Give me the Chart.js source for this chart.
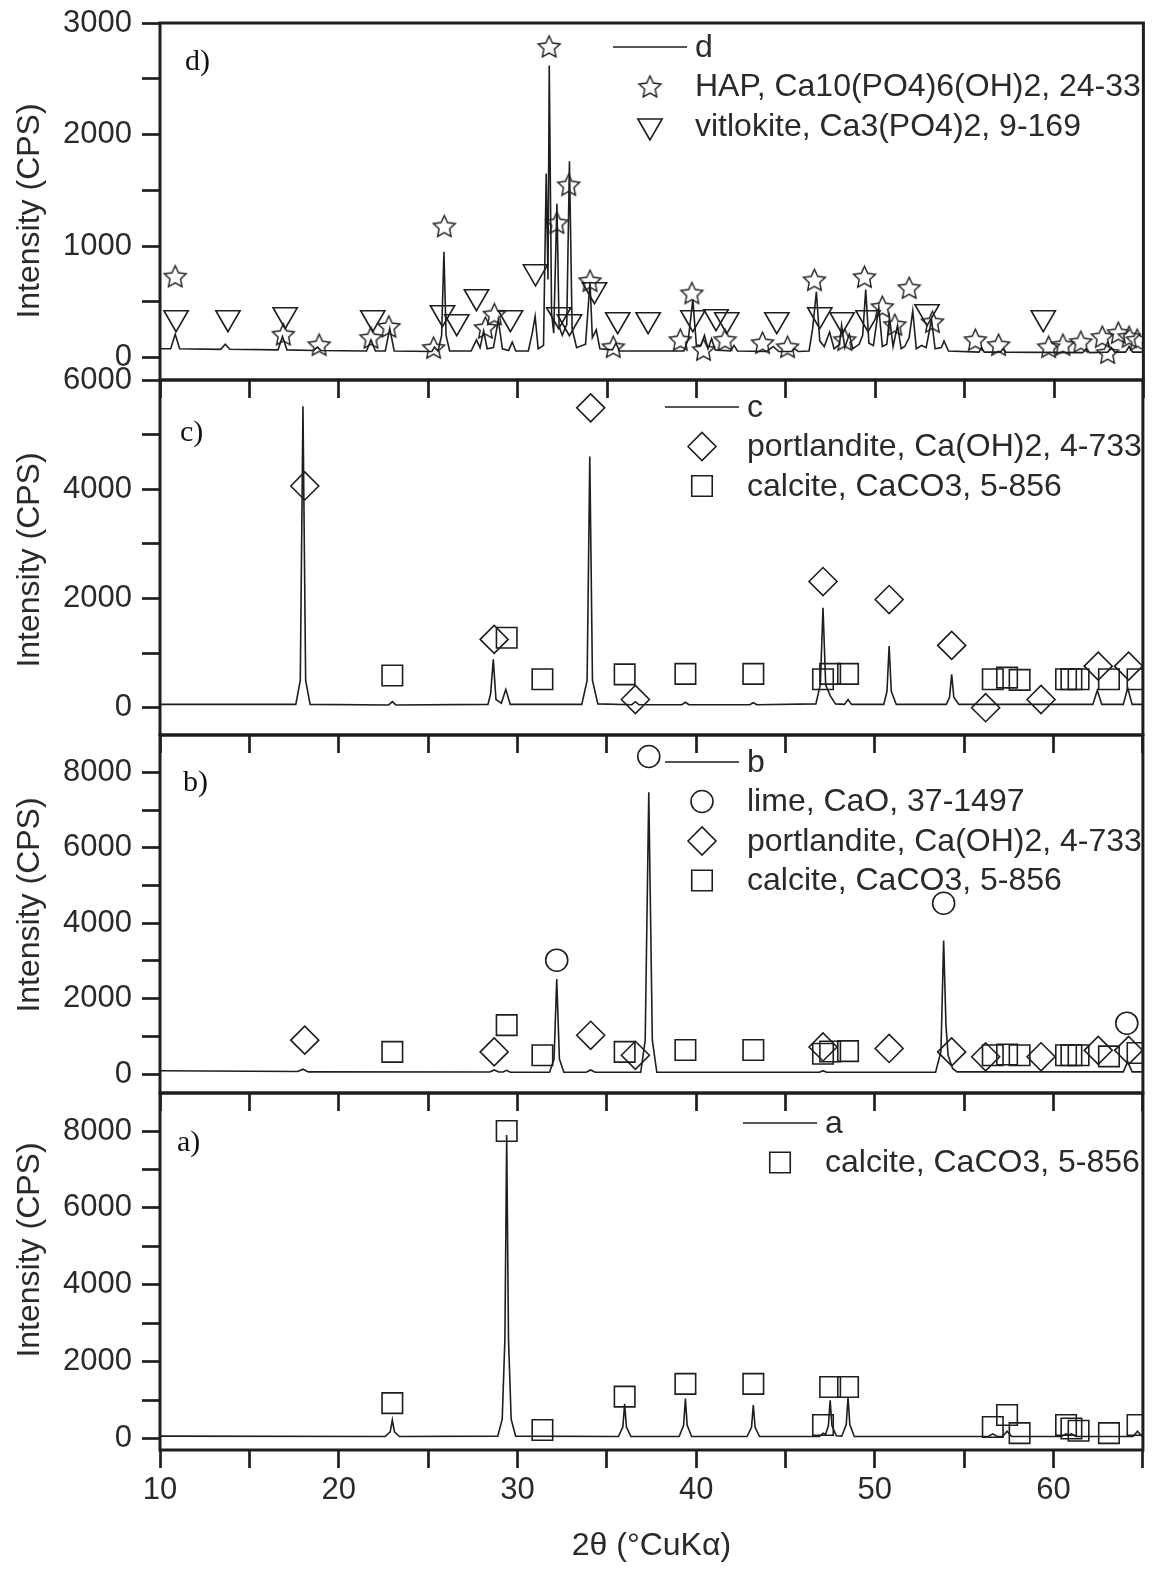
<!DOCTYPE html>
<html>
<head>
<meta charset="utf-8">
<title>XRD patterns</title>
<script src="https://cdn.jsdelivr.net/npm/chart.js@4.4.1/dist/chart.umd.min.js"></script>
<style>
  html, body { margin: 0; padding: 0; background: #fff; }
  #wrap { position: relative; width: 1159px; height: 1571px; overflow: hidden; background: #fff; }
  #wrap canvas { position: absolute; left: 0; top: 0; }
</style>
</head>
<body>
<div id="wrap">
  <canvas id="panelD" width="1159" height="1571"></canvas>
  <canvas id="panelC" width="1159" height="1571"></canvas>
  <canvas id="panelB" width="1159" height="1571"></canvas>
  <canvas id="panelA" width="1159" height="1571"></canvas>
</div>
<script>
"use strict";

// tick positions
var thetaTicks = [10, 15, 20, 25, 30, 35, 40, 45, 50, 55, 60, 65];
var dTicks = [0, 500, 1000, 1500, 2000, 2500, 3000];
var cTicks = [0, 1000, 2000, 3000, 4000, 5000, 6000];
var abTicks = [0, 1000, 2000, 3000, 4000, 5000, 6000, 7000, 8000];

// ---- d) HAP product ----
var dTheta = [10, 10.6, 10.85, 11.1, 13.4, 13.65, 13.9, 16.6, 16.85, 17.1, 18.6, 18.8, 19.0,
    21.55, 21.8, 22.05, 22.6, 22.85, 23.1, 25.2, 25.35, 25.55, 25.75, 25.88, 26.0, 26.2,
    27.4, 27.7, 27.9, 28.1, 28.3, 28.65, 28.92, 29.15, 29.5, 29.7, 29.9, 30.6, 30.82, 30.98,
    31.15, 31.45, 31.6, 31.7, 31.77, 31.9, 32.02, 32.2, 32.32, 32.5, 32.75, 32.9, 33.05, 33.3,
    33.8, 34.05, 34.18, 34.4, 34.6, 35.3, 35.5, 35.7, 39.3, 39.55, 39.8, 40.0, 40.25, 40.45,
    40.65, 40.85, 41.05, 41.9, 42.1, 42.3, 43.9, 44.3, 44.6, 45.3, 45.5, 45.7, 46.3, 46.5,
    46.71, 46.9, 47.15, 47.45, 47.7, 48.0, 48.12, 48.3, 48.55, 48.75, 49.1, 49.3, 49.47, 49.65,
    49.9, 50.2, 50.4, 50.65, 50.8, 51.0, 51.25, 51.45, 51.65, 51.9, 52.1, 52.3, 52.6, 52.85,
    53.15, 53.35, 53.7, 53.85, 54.1, 55.8, 55.95, 56.1, 57.0, 57.15, 57.3, 61.6, 61.8, 62.0,
    63.0, 63.2, 63.4, 64.0, 64.2, 64.4, 65];
var dCounts = [80, 80, 210, 80, 75, 120, 75, 70, 190, 70, 65, 95, 65,
    60, 160, 60, 60, 260, 60, 55, 95, 60, 200, 950, 200, 60,
    60, 160, 90, 240, 80, 90, 340, 80, 65, 140, 60, 60, 220, 370,
    80, 110, 1650, 700, 2620, 400, 220, 1380, 280, 200, 300, 1760, 260, 90,
    120, 680, 180, 250, 80, 70, 130, 60, 60, 170, 520, 110, 110, 200,
    80, 170, 70, 60, 110, 60, 55, 100, 55, 55, 80, 55, 60, 260,
    590, 150, 100, 230, 80, 120, 290, 90, 210, 80, 120, 200, 610, 130,
    110, 450, 100, 120, 360, 100, 290, 80, 100, 180, 420, 80, 110, 90,
    340, 80, 90, 150, 60, 50, 90, 50, 50, 80, 50, 45, 80, 45,
    50, 90, 50, 50, 100, 50, 50];
var hapTheta = [10.85, 16.9, 18.9, 21.8, 22.8, 25.3, 25.9, 28.2, 28.7, 31.76, 32.2, 32.86, 34.05,
    35.35, 39.1, 39.75, 40.4, 41.6, 43.7, 45.1, 46.6, 48.3, 49.4, 50.4, 51.1, 51.9, 53.2,
    55.6, 56.9, 59.7, 60.5, 61.5, 62.7, 63.0, 63.6, 64.2, 64.65];
var hapMarks = [730, 210, 116, 180, 280, 90, 1180, 270, 390, 2790, 1210, 1550, 690,
    98, 161, 580, 72, 161, 134, 98, 698, 161, 725, 457, 296, 627, 322,
    161, 116, 98, 116, 143, 188, 45, 224, 188, 161];
var whitTheta = [10.9, 13.8, 17.0, 21.9, 25.8, 26.6, 27.7, 29.6, 31.0, 32.3, 32.9, 34.3, 35.6,
    37.3, 39.8, 41.1, 41.7, 44.5, 46.9, 48.15, 49.6, 52.9, 59.4];
var whitMarks = [358, 358, 385, 358, 403, 322, 546, 358, 770, 385, 322, 609, 340,
    340, 358, 367, 340, 340, 385, 340, 358, 412, 358];

// ---- c) ----
var cTheta = [10, 17.6, 17.85, 18.0, 18.15, 18.4, 22.8, 23.0, 23.2, 28.35, 28.5, 28.65, 28.8,
    29.1, 29.35, 29.6, 33.6, 33.9, 34.05, 34.2, 34.5, 36.4, 36.6, 36.8, 39.2, 39.4, 39.6,
    43.0, 43.2, 43.4, 46.7, 46.95, 47.1, 47.25, 47.5, 47.8, 48.3, 48.5, 48.7, 50.5, 50.68,
    50.8, 50.92, 51.2, 54.0, 54.18, 54.3, 54.42, 54.7, 62.2, 62.45, 62.7, 63.9, 64.15, 64.4, 65];
var cCounts = [60, 60, 500, 5520, 500, 60, 50, 110, 50, 60, 250, 885, 150,
    80, 335, 60, 60, 500, 4600, 500, 70, 55, 110, 55, 55, 100, 55,
    55, 90, 55, 70, 420, 1830, 420, 220, 70, 60, 150, 60, 60, 300,
    1130, 300, 60, 60, 190, 610, 190, 60, 60, 320, 60, 60, 360, 60, 60];
var portCTheta = [18.1, 28.7, 34.1, 36.6, 47.1, 50.8, 54.3, 56.2, 59.3, 62.5, 64.2];
var portCMarks = [4060, 1250, 5490, 150, 2310, 1980, 1140, 0, 150, 760, 760];
var calcCTheta = [23.0, 29.4, 31.4, 36.0, 39.4, 43.2, 47.1, 47.5, 48.5, 56.6, 57.4, 58.1,
    60.7, 61.0, 61.4, 63.1, 64.7];
var calcCMarks = [590, 1280, 520, 610, 620, 620, 520, 620, 620, 520, 550, 510,
    520, 520, 520, 520, 520];

// ---- b) ----
var bTheta = [10, 17.7, 18.0, 18.3, 28.45, 28.7, 28.95, 29.2, 29.4, 29.6, 31.8, 32.05, 32.2,
    32.35, 32.6, 33.85, 34.1, 34.35, 36.9, 37.15, 37.35, 37.55, 37.8, 46.9, 47.1, 47.3,
    53.4, 53.7, 53.85, 53.98, 54.1, 54.35, 54.6, 63.9, 64.15, 64.4, 65];
var bCounts = [90, 70, 130, 60, 55, 110, 55, 55, 100, 50, 50, 400, 2520,
    400, 50, 50, 110, 50, 50, 900, 7470, 900, 50, 50, 90, 50,
    50, 600, 3540, 1300, 500, 150, 60, 60, 330, 60, 60];
var limeTheta = [32.2, 37.35, 53.85, 64.1];
var limeMarks = [3020, 8420, 4530, 1350];
var portBTheta = [18.1, 28.7, 34.1, 36.6, 47.1, 50.8, 54.3, 56.2, 59.3, 62.5, 64.2];
var portBMarks = [900, 590, 1030, 500, 720, 680, 590, 460, 460, 630, 630];
var calcBTheta = [23.0, 29.4, 31.4, 36.0, 39.4, 43.2, 47.1, 47.5, 48.5, 56.6, 57.4, 58.1,
    60.7, 61.0, 61.4, 63.1, 64.7];
var calcBMarks = [590, 1300, 500, 590, 640, 640, 540, 600, 610, 500, 520, 500,
    500, 500, 500, 470, 560];

// ---- a) calcite ----
var aTheta = [10, 22.6, 22.88, 23.0, 23.12, 23.4, 28.9, 29.15, 29.3, 29.4, 29.5, 29.65, 29.9,
    35.65, 35.9, 36.0, 36.1, 36.35, 39.05, 39.3, 39.4, 39.5, 39.75, 42.85, 43.1, 43.2, 43.3,
    43.55, 46.9, 47.1, 47.25, 47.4, 47.5, 47.6, 47.85, 48.15, 48.4, 48.5, 48.6, 48.85,
    56.35, 56.6, 56.85, 57.15, 57.4, 57.65, 60.45, 60.7, 60.85, 61.0, 61.25, 64.45, 64.7,
    64.95, 65];
var aCounts = [60, 50, 170, 480, 170, 50, 60, 500, 2600, 7900, 2600, 500, 60,
    50, 300, 900, 300, 50, 50, 340, 1040, 340, 50, 50, 290, 870, 290,
    50, 50, 140, 110, 330, 990, 330, 70, 60, 360, 1080, 360, 50,
    50, 120, 50, 50, 190, 50, 50, 120, 90, 120, 50, 50, 190,
    50, 50];
var calcATheta = [23.0, 29.4, 31.4, 36.0, 39.4, 43.2, 47.1, 47.5, 48.5, 56.6, 57.4, 58.1,
    60.7, 61.0, 61.4, 63.1, 64.7];
var calcAMarks = [920, 8000, 220, 1090, 1420, 1420, 350, 1340, 1340, 300, 610, 140,
    350, 260, 200, 140, 350];

var INK = '#1e1e1e';
var TEXT = '#2a2a2a';
var SANS = '"Liberation Sans", Arial, Helvetica, sans-serif';
var SERIF = '"Liberation Serif", "Times New Roman", serif';

Chart.defaults.font.family = SANS;

function toPoints(xs, ys) {
    return xs.map(function (x, i) { return {x: x, y: ys[i]}; });
}

// outlined five-point star used for the HAP reflections
function starMarker(r) {
    var size = Math.ceil(2 * r + 4);
    var c = document.createElement('canvas');
    c.width = size;
    c.height = size;
    var g = c.getContext('2d');
    var inner = r * 0.48;
    g.beginPath();
    for (var i = 0; i < 10; i++) {
        var rr = i % 2 === 0 ? r : inner;
        var ang = -Math.PI / 2 + i * Math.PI / 5;
        var px = size / 2 + rr * Math.cos(ang);
        var py = size / 2 + 1 + rr * Math.sin(ang);
        if (i === 0) g.moveTo(px, py); else g.lineTo(px, py);
    }
    g.closePath();
    g.lineWidth = 1.4;
    g.strokeStyle = INK;
    g.stroke();
    return c;
}
var STAR = starMarker(11.5);

function traceSet(label, xs, ys) {
    return {
        label: label,
        data: toPoints(xs, ys),
        showLine: true,
        borderColor: INK,
        borderWidth: 1.6,
        pointRadius: 0,
        tension: 0
    };
}

function markSet(label, xs, ys, style, radius, rotation) {
    return {
        label: label,
        data: toPoints(xs, ys),
        showLine: false,
        pointStyle: style,
        pointRadius: radius,
        pointRotation: rotation || 0,
        pointBorderColor: INK,
        pointBorderWidth: 1.6,
        pointBackgroundColor: 'rgba(0,0,0,0)',
        borderColor: INK,
        backgroundColor: 'rgba(0,0,0,0)'
    };
}

function fixedTicks(values) {
    return function (scale) {
        scale.ticks = values.map(function (v) { return {value: v}; });
    };
}

// frame, legend, panel letter and y title
var panelDecor = {
    id: 'panelDecor',
    afterDraw: function (chart, args, opts) {
        var ctx = chart.ctx;
        var area = chart.chartArea;
        ctx.save();

        ctx.strokeStyle = INK;
        ctx.lineWidth = 3;
        ctx.strokeRect(area.left, area.top, area.right - area.left, area.bottom - area.top);

        // legend
        ctx.font = '32px ' + SANS;
        ctx.textBaseline = 'middle';
        ctx.textAlign = 'left';
        chart.data.datasets.forEach(function (ds, i) {
            var y = opts.legendY + i * opts.legendGap;
            ctx.strokeStyle = INK;
            if (ds.showLine) {
                ctx.lineWidth = 1.5;
                ctx.beginPath();
                ctx.moveTo(opts.legendX - 37, y);
                ctx.lineTo(opts.legendX + 37, y);
                ctx.stroke();
            } else {
                ctx.lineWidth = 1.6;
                ctx.fillStyle = 'rgba(0,0,0,0)';
                Chart.helpers.drawPoint(ctx, {
                    pointStyle: ds.pointStyle,
                    radius: ds.pointRadius,
                    rotation: ds.pointRotation,
                    borderWidth: 1.6
                }, opts.legendX, y);
            }
            ctx.fillStyle = TEXT;
            ctx.fillText(ds.label, opts.legendX + 45, y + 1);
        });

        ctx.font = '30px ' + SERIF;
        ctx.fillStyle = '#111';
        ctx.fillText(opts.tag, opts.tagX, opts.tagY);

        ctx.font = '32px ' + SANS;
        ctx.fillStyle = TEXT;
        ctx.textAlign = 'center';
        ctx.translate(30, opts.titleY);
        ctx.rotate(-Math.PI / 2);
        ctx.fillText('Intensity (CPS)', 0, 0);
        ctx.restore();
    }
};

function buildPanel(canvasId, p) {
    var isBottom = !!p.bottomAxis;
    return new Chart(document.getElementById(canvasId), {
        type: 'scatter',
        data: {datasets: p.datasets},
        options: {
            responsive: false,
            animation: false,
            events: [],
            layout: {padding: {left: 0, right: 7, top: p.top, bottom: isBottom ? 0 : 1571 - p.bottom}},
            plugins: {
                legend: {display: false},
                tooltip: {enabled: false},
                panelDecor: {
                    legendX: p.legendX, legendY: p.legendY, legendGap: 39.5,
                    tag: p.tag, tagX: p.tagX, tagY: p.tagY, titleY: p.titleY
                }
            },
            scales: {
                x: {
                    type: 'linear',
                    min: 10,
                    max: 65,
                    border: {display: false},
                    grid: {drawOnChartArea: false, drawTicks: true, tickLength: 18, tickWidth: 2.7, tickColor: INK},
                    afterBuildTicks: fixedTicks(thetaTicks),
                    ticks: {
                        display: isBottom,
                        autoSkip: false,
                        maxRotation: 0,
                        padding: 4,
                        color: TEXT,
                        font: {size: 31},
                        callback: function (v) { return (v % 10 === 0 && v <= 60) ? String(v) : ''; }
                    },
                    title: {
                        display: isBottom,
                        text: '2\u03b8 (\u00b0CuK\u03b1)',
                        color: TEXT,
                        font: {size: 32},
                        padding: {top: 0, bottom: 6}
                    },
                    afterFit: function (s) {
                        s.height = isBottom ? 121 : 0;
                        s.paddingLeft = 0;
                        s.paddingRight = 0;
                    }
                },
                y: {
                    type: 'linear',
                    min: p.yMin,
                    max: p.yMax,
                    border: {display: false},
                    grid: {drawOnChartArea: false, drawTicks: true, tickLength: 18, tickWidth: 2.7, tickColor: INK},
                    afterBuildTicks: fixedTicks(p.ticks),
                    ticks: {
                        autoSkip: false,
                        padding: 10,
                        color: TEXT,
                        font: {size: 31},
                        callback: function (v) { return v % p.labelEvery === 0 ? String(v) : ''; }
                    },
                    afterFit: function (s) {
                        s.width = 160;
                        s.paddingTop = 0;
                        s.paddingBottom = 0;
                    }
                }
            }
        },
        plugins: [panelDecor]
    });
}

buildPanel('panelD', {
    top: 23, bottom: 380, yMin: -200, yMax: 3000, ticks: dTicks, labelEvery: 1000,
    legendX: 650, legendY: 47, tag: 'd)', tagX: 185, tagY: 62, titleY: 211,
    datasets: [
        traceSet('d', dTheta, dCounts),
        markSet('HAP, Ca10(PO4)6(OH)2, 24-33', hapTheta, hapMarks, STAR, 11),
        markSet('vitlokite, Ca3(PO4)2, 9-169', whitTheta, whitMarks, 'triangle', 14, 180)
    ]
});

buildPanel('panelC', {
    top: 380, bottom: 735, yMin: -500, yMax: 6000, ticks: cTicks, labelEvery: 2000,
    legendX: 702, legendY: 407, tag: 'c)', tagX: 180, tagY: 433, titleY: 560,
    datasets: [
        traceSet('c', cTheta, cCounts),
        markSet('portlandite, Ca(OH)2, 4-733', portCTheta, portCMarks, 'rectRot', 14),
        markSet('calcite, CaCO3, 5-856', calcCTheta, calcCMarks, 'rect', 14.5)
    ]
});

buildPanel('panelB', {
    top: 735, bottom: 1093, yMin: -500, yMax: 8990, ticks: abTicks, labelEvery: 2000,
    legendX: 702, legendY: 762, tag: 'b)', tagX: 183, tagY: 783, titleY: 905,
    datasets: [
        traceSet('b', bTheta, bCounts),
        markSet('lime, CaO, 37-1497', limeTheta, limeMarks, 'circle', 11),
        markSet('portlandite, Ca(OH)2, 4-733', portBTheta, portBMarks, 'rectRot', 14),
        markSet('calcite, CaCO3, 5-856', calcBTheta, calcBMarks, 'rect', 14.5)
    ]
});

buildPanel('panelA', {
    top: 1093, bottom: 1450, yMin: -300, yMax: 8990, ticks: abTicks, labelEvery: 2000, bottomAxis: true,
    legendX: 780, legendY: 1123, tag: 'a)', tagX: 177, tagY: 1143, titleY: 1250,
    datasets: [
        traceSet('a', aTheta, aCounts),
        markSet('calcite, CaCO3, 5-856', calcATheta, calcAMarks, 'rect', 14.5)
    ]
});
</script>
</body>
</html>
